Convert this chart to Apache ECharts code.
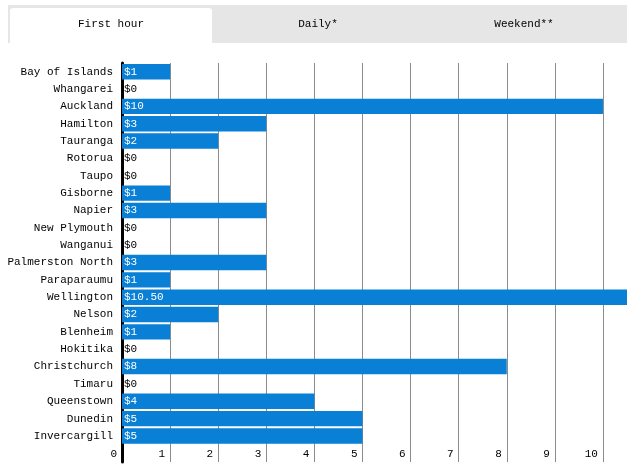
<!DOCTYPE html>
<html><head><meta charset="utf-8">
<script src="https://cdn.jsdelivr.net/npm/echarts@6/dist/echarts.min.js"></script>
<style>html,body{margin:0;padding:0;background:#fff;}#c{width:634px;height:472px;}</style>
</head><body><div id="c"></div>
<script>
var tabs = ['First hour', 'Daily*', 'Weekend**'];
var cities = ['Bay of Islands','Whangarei','Auckland','Hamilton','Tauranga','Rotorua','Taupo','Gisborne','Napier','New Plymouth','Wanganui','Palmerston North','Paraparaumu','Wellington','Nelson','Blenheim','Hokitika','Christchurch','Timaru','Queenstown','Dunedin','Invercargill'];
var values = [1,0,10,3,2,0,0,1,3,0,0,3,1,10.5,2,1,0,8,0,4,5,5];
var priceLabels = ['$1','$0','$10','$3','$2','$0','$0','$1','$3','$0','$0','$3','$1','$10.50','$2','$1','$0','$8','$0','$4','$5','$5'];

var FONT = '"Liberation Mono", monospace';
var FS = 11;
var cats = cities.concat(['']);
var seriesData = values.map(function (v, i) {
  return {
    value: v,
    label: { formatter: priceLabels[i], color: v > 0 ? '#fff' : '#000' }
  };
});

var chart = echarts.init(document.getElementById('c'), null, { renderer: 'canvas' });
chart.setOption({
  animation: false,
  graphic: [
    { type: 'rect', shape: { x: 8, y: 5, width: 619, height: 38 }, style: { fill: '#e6e6e6' } },
    { type: 'rect', shape: { x: 10, y: 8, width: 202, height: 35, r: [3, 3, 0, 0] }, style: { fill: '#fff' } },
    { type: 'text', x: 111, y: 24, style: { text: tabs[0], font: FS + 'px ' + FONT, fill: '#000', align: 'center', verticalAlign: 'middle' } },
    { type: 'text', x: 318, y: 24, style: { text: tabs[1], font: FS + 'px ' + FONT, fill: '#000', align: 'center', verticalAlign: 'middle' } },
    { type: 'text', x: 524, y: 24, style: { text: tabs[2], font: FS + 'px ' + FONT, fill: '#000', align: 'center', verticalAlign: 'middle' } }
  ],
  grid: { left: 122, right: 7, top: 63, bottom: 10, containLabel: false, outerBoundsMode: 'none' },
  xAxis: {
    type: 'value', min: 0, max: 10.5, interval: 1,
    axisLine: { show: false }, axisTick: { show: false },
    splitLine: { show: true, showMaxLine: false, lineStyle: { color: '#8c8c8c', width: 1 } },
    axisLabel: {
      inside: true, margin: 2, align: 'right', padding: [0, 5, 0, 0],
      showMaxLabel: false,
      color: '#000', fontFamily: FONT, fontSize: FS,
      formatter: function (v) { return Number.isInteger(v) ? String(v) : ''; }
    }
  },
  yAxis: {
    type: 'category', data: cats, inverse: true,
    axisLine: { show: true, lineStyle: { color: '#000', width: 3 } },
    axisTick: { show: false },
    axisLabel: { color: '#000', fontFamily: FONT, fontSize: FS, margin: 9 }
  },
  series: [{
    type: 'bar', data: seriesData, barCategoryGap: '11%',
    itemStyle: { color: '#0a7fd6' },
    label: { show: true, position: 'insideLeft', distance: 2, fontFamily: FONT, fontSize: FS },
    silent: true
  }]
});
</script></body></html>
